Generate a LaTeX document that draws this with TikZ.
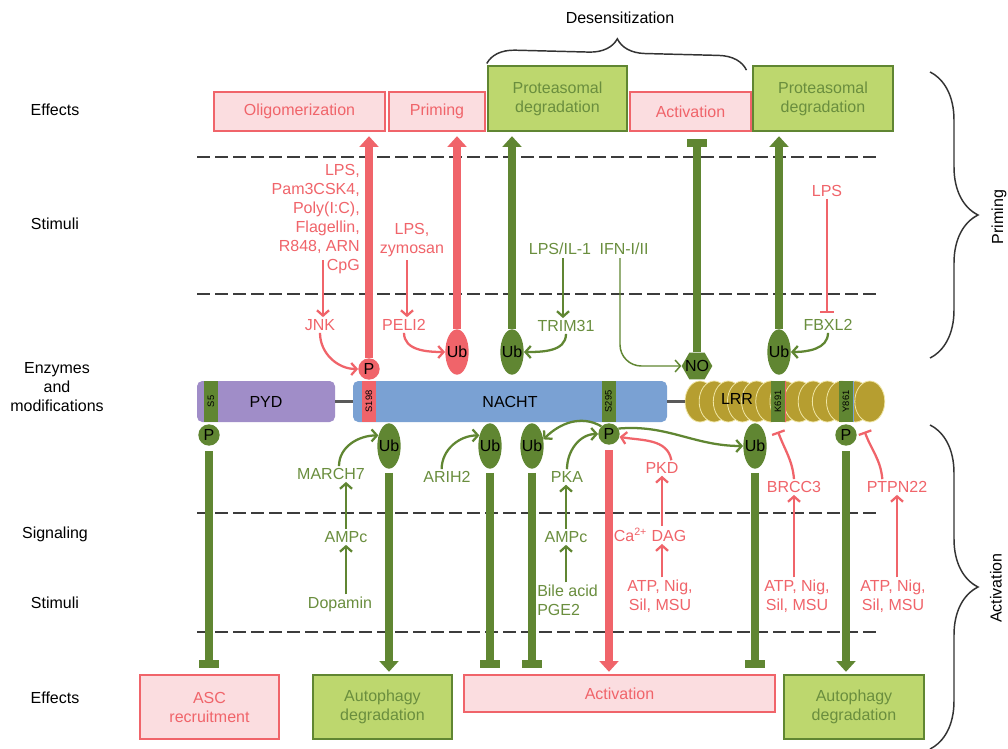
\documentclass[tikz,border=0pt]{standalone}
\usepackage{fontspec}
\setmainfont{Liberation Sans}
\usepackage{xcolor}
\usepackage{tikz}
\usetikzlibrary{arrows.meta, decorations.pathreplacing, shapes.geometric}
\definecolor{nlrred}{RGB}{240,100,106}
\definecolor{nlrpink}{RGB}{251,221,224}
\definecolor{nlrgreen}{RGB}{96,134,50}
\definecolor{nlrlime}{RGB}{189,215,110}
\definecolor{nlrgtext}{RGB}{106,142,62}
\definecolor{pydcol}{RGB}{160,141,200}
\definecolor{nachtcol}{RGB}{122,161,211}
\definecolor{lrrcol}{RGB}{182,158,48}
\definecolor{lrredge}{RGB}{240,230,165}
\definecolor{dashcol}{RGB}{60,60,60}
\tikzset{
	effred/.style={draw=nlrred, fill=nlrpink, line width=1.8pt, text=nlrred, align=center, inner sep=0pt},
	effgreen/.style={draw=nlrgreen, fill=nlrlime, line width=1.8pt, text=nlrgtext, align=center, inner sep=0pt},
	dombox/.style={rounded corners=4pt, minimum height=30.75pt, inner sep=0pt},
	sitebox/.style={minimum width=30.75pt, minimum height=10.5pt, inner sep=0pt, rotate=90, font=\fontsize{7}{8}\selectfont},
	lrrunit/.style={ellipse, fill=lrrcol, draw=lrredge, line width=0.6pt, minimum width=22.5pt, minimum height=30.75pt, inner sep=0pt},
	ubmod/.style={ellipse, minimum width=17.5pt, minimum height=34pt, inner sep=0pt, label={center:Ub}},
	pmod/.style={circle, minimum size=16pt, inner sep=0pt},
	nomod/.style={regular polygon, regular polygon sides=6, fill=nlrgreen, minimum size=23pt, inner sep=0pt, label={center:NO}},
	redtx/.style={text=nlrred, align=center, inner sep=1.5pt},
	greentx/.style={text=nlrgtext, align=center, inner sep=1.5pt},
	lane/.style={draw=dashcol, line width=2.2pt, dash pattern=on 9.5pt off 4pt},
	linker/.style={draw=black!65, line width=2pt},
	fatred/.style={draw=nlrred, line width=6pt, -{Triangle[width=14pt,length=8pt]}},
	fatgreen/.style={draw=nlrgreen, line width=6pt, -{Triangle[width=14pt,length=8pt]}},
	fatblock/.style={draw=nlrgreen, line width=6pt, -{Rectangle[width=15pt,length=6pt]}},
	thinred/.style={draw=nlrred, line width=1.7pt, -{Straight Barb[length=4pt,width=9pt]}},
	thingreen/.style={draw=nlrgreen, line width=1.7pt, -{Straight Barb[length=4pt,width=9pt]}},
	thinblock/.style={draw=nlrred, line width=1.7pt, -{Bar[width=10pt]}},
	curly/.style={decorate, draw=black!80, line width=1.1pt, decoration={brace, amplitude=#1}}
}

\begin{document}
\begin{tikzpicture}[x=0.75pt, y=-0.75pt, font=\fontsize{12}{14.25}\selectfont]
	\useasboundingbox (0,0) rectangle (1008,749);
	\fill[white] (0,0) rectangle (1008,749);
	\foreach \y in {157,294,513,632}
		\draw[lane] (197,\y) -- (878,\y);

	\node (lEff) at (55,110) {Effects};
	\node (lStimA) at (55,224) {Stimuli};
	\node[align=center] (lEnz) at (57,387) {Enzymes\\and\\modifications};
	\node (lSig) at (55,534) {Signaling};
	\node (lStimB) at (55,603) {Stimuli};
	\node (lEffB) at (55,698) {Effects};

	\node[effred, minimum width=128.25pt, minimum height=29.25pt] (oligo) at (299.5,111.5) {Oligomerization};
	\node[effred, minimum width=72pt, minimum height=29.25pt] (priming) at (437,111.5) {Priming};
	\node[effgreen, minimum width=104.25pt, minimum height=48.75pt] (protA) at (557.5,98.5) {Proteasomal\\degradation};
	\node[effred, minimum width=90.75pt, minimum height=29.25pt] (actA) at (690.5,111.5) {Activation};
	\node[effgreen, minimum width=105pt, minimum height=48.75pt] (protB) at (823,98.5) {Proteasomal\\degradation};

	\node[effred, minimum width=104.25pt, minimum height=48pt] (asc) at (209.5,707) {ASC\\recruitment};
	\node[effgreen, minimum width=104.25pt, minimum height=48pt] (autoA) at (382.5,707) {Autophagy\\degradation};
	\node[effred, minimum width=233.25pt, minimum height=27.75pt] (actB) at (619.5,693.5) {Activation};
	\node[effgreen, minimum width=105pt, minimum height=48pt] (autoB) at (854,707) {Autophagy\\degradation};

	\node (desens) at (620,18) {Desensitization};
	\draw[curly=21pt] ([yshift=1pt]protA.north west) -- ([xshift=-4pt,yshift=-4pt]protB.north west);
	\draw[curly=36pt] (930,72) -- (930,358);
	\draw[curly=36pt] (930,425) -- (930,749);
	\node[rotate=90] (primLbl) at (999,217) {Priming};
	\node[rotate=90] (actLbl) at (996,588) {Activation};

	\node[dombox, fill=pydcol, minimum width=103.5pt] (pyd) at (266,401.5) {PYD};
	\node[dombox, fill=nachtcol, minimum width=235.5pt] (nacht) at (510,401.5) {NACHT};
	\foreach \i in {0,...,12}
		\node[lrrunit] (lrr\i) at ({700+14.15*\i},401.5) {};
	\node (lrr) at (737,399) {LRR};
	\draw[linker] (pyd) -- (nacht);
	\draw[linker] (nacht) -- (lrr0);

	\node[sitebox, fill=nlrgreen] (s5) at (211,401.5) {S5};
	\node[sitebox, fill=nlrred] (s198) at (369,401.5) {S198};
	\node[sitebox, fill=nlrgreen] (s295) at (608.5,401.5) {S295};
	\node[sitebox, fill=nlrgreen] (k691) at (778,401.5) {K691};
	\node[sitebox, fill=nlrgreen] (y861) at (846,401.5) {Y861};
	\draw[nlrred, line width=0.8pt] (k691.south west) -- (k691.south east);
	\draw[nachtcol, line width=0.8pt] (y861.south west) -- (y861.south east);

	\node[pmod, fill=nlrred] (pS198) at (369,369) {P};
	\node[ubmod, fill=nlrred] (ubRed) at (457,352) {};
	\node[ubmod, fill=nlrgreen] (ubTop) at (512,352) {};
	\node[nomod] (noMod) at (697,366) {};
	\node[ubmod, fill=nlrgreen] (ubLrr) at (779,352) {};
	\node[pmod, fill=nlrgreen] (pS5) at (209,435) {P};
	\node[ubmod, fill=nlrgreen] (ubMarch) at (389,446) {};
	\node[ubmod, fill=nlrgreen] (ubArih) at (490,446) {};
	\node[ubmod, fill=nlrgreen] (ubPka) at (532,446) {};
	\node[pmod, fill=nlrgreen] (pS295) at (609,434) {P};
	\node[ubmod, fill=nlrgreen] (ubBrcc) at (755,446) {};
	\node[pmod, fill=nlrgreen] (pY861) at (846,435) {P};

	\draw[fatred, shorten >=3pt] (pS198) -- (pS198 |- oligo.south);
	\draw[fatred, shorten >=3pt] (ubRed) -- (ubRed |- priming.south);
	\draw[fatgreen, shorten >=3pt] (ubTop) -- (ubTop |- protA.south);
	\draw[fatblock, shorten >=5pt] (noMod) -- (noMod |- actA.south);
	\draw[fatgreen, shorten >=3pt] (ubLrr) -- (ubLrr |- protB.south);
	\draw[fatblock, shorten <=4pt, shorten >=4pt] (pS5) -- (pS5 |- asc.north);
	\draw[fatgreen, shorten <=3pt, shorten >=1.5pt] (ubMarch) -- (ubMarch |- autoA.north);
	\draw[fatblock, shorten <=3pt, shorten >=4pt] (ubArih) -- (ubArih |- actB.north);
	\draw[fatblock, shorten <=3pt, shorten >=4pt] (ubPka) -- (ubPka |- actB.north);
	\draw[fatred, shorten <=4pt, shorten >=1.5pt] (pS295) -- (pS295 |- actB.north);
	\draw[fatblock, shorten <=3pt, shorten >=4pt] (ubBrcc) -- (ubBrcc |- actB.north);
	\draw[fatgreen, shorten <=4pt, shorten >=1.5pt] (pY861) -- (pY861 |- autoB.north);

	\node[redtx, align=right, anchor=east] (tlrLig) at (362,219.5) {LPS,\\Pam3CSK4,\\Poly(I:C),\\Flagellin,\\R848, ARN\\CpG};
	\node[redtx] (jnk) at (320,325) {JNK};
	\node[redtx] (lpsZym) at (412,240) {LPS,\\zymosan};
	\node[redtx] (peli) at (404,325) {PELI2};
	\node[greentx] (lpsIl) at (560,249) {LPS/IL-1};
	\node[greentx] (ifn) at (624,249) {IFN-I/II};
	\node[greentx] (trim) at (566,326) {TRIM31};
	\node[redtx] (lpsF) at (827,191) {LPS};
	\node[greentx] (fbxl) at (828,325) {FBXL2};
	\coordinate (jnkIn) at (323,260);
	\coordinate (peliIn) at (407,260);
	\coordinate (trimIn) at (563,258);
	\coordinate (ifnOut) at (620,258);

	\draw[thinred] (jnkIn) -- (jnkIn |- jnk.north);
	\draw[thinred] (peliIn) -- (peliIn |- peli.north);
	\draw[thingreen] (trimIn) -- (trimIn |- trim.north);
	\draw[thinblock, shorten >=3pt] (lpsF) -- (lpsF |- fbxl.north);
	\draw[thingreen, line width=1.1pt, rounded corners=16pt] (ifnOut) |- (noMod);
	\draw[thinred] (jnk.south) to[out=-90,in=180] (pS198.west);
	\draw[thinred] (peli.south) to[out=-90,in=180] (ubRed.west);
	\draw[thingreen] (trim.south) to[out=-90,in=0] (ubTop.east);
	\draw[thingreen] (fbxl.south) to[out=-90,in=0] (ubLrr.east);

	\node[greentx] (march) at (331,474) {MARCH7};
	\node[greentx] (arih) at (447,477) {ARIH2};
	\node[greentx] (pka) at (567,477) {PKA};
	\node[redtx] (pkd) at (662,468) {PKD};
	\node[greentx] (ampcA) at (346,537) {AMPc};
	\node[greentx] (dopa) at (340,604) {Dopamin};
	\node[greentx] (ampcB) at (566,537) {AMPc};
	\node[greentx, align=left, anchor=west] (bile) at (535,600) {Bile acid\\PGE2};
	\node[redtx] (caDag) at (650,535) {Ca\textsuperscript{2+} DAG};
	\node[redtx] (atpA) at (660,596) {ATP, Nig,\\Sil, MSU};
	\node[redtx] (brcc) at (794,487) {BRCC3};
	\node[redtx] (atpB) at (797,596) {ATP, Nig,\\Sil, MSU};
	\node[redtx] (ptpn) at (897,487) {PTPN22};
	\node[redtx] (atpC) at (893,596) {ATP, Nig,\\Sil, MSU};

	\draw[thingreen] ([xshift=6pt]march.north) to[out=90,in=180] (ubMarch.135);
	\draw[thingreen] ([xshift=-4pt]arih.north) to[out=90,in=180] (ubArih.135);
	\draw[thingreen] (pka.north) to[out=90,in=180] (pS295.west);
	\draw[thingreen] (pS295.north west) to[out=150,in=45] (ubPka.30);
	\draw[thingreen] (pS295.30) to[out=5,in=180] (ubBrcc.west);
	\draw[thinred] ([xshift=7pt]pkd.north) to[out=100,in=-10] (pS295.-15);
	\draw[thinblock] (brcc.north) to[out=95,in=-70] ([yshift=-7pt]k691.west);
	\draw[thinblock] ([xshift=-11pt]ptpn.north) to[out=95,in=-70] ([xshift=14pt,yshift=-7pt]y861.west);

	\draw[thingreen] (ampcA.north) -- (ampcA.north |- march.south);
	\draw[thingreen] (ampcA.south |- dopa.north) -- (ampcA.south);
	\draw[thingreen] (ampcB.north) -- (ampcB.north |- pka.south);
	\draw[thingreen] (ampcB.south |- bile.north) -- (ampcB.south);
	\draw[thinred] (pkd |- caDag.north) -- (pkd.south);
	\draw[thinred] (pkd |- atpA.north) -- (pkd |- caDag.south);
	\draw[thinred] (brcc |- atpB.north) -- (brcc.south);
	\draw[thinred] (ptpn |- atpC.north) -- (ptpn.south);
\end{tikzpicture}
\end{document}
